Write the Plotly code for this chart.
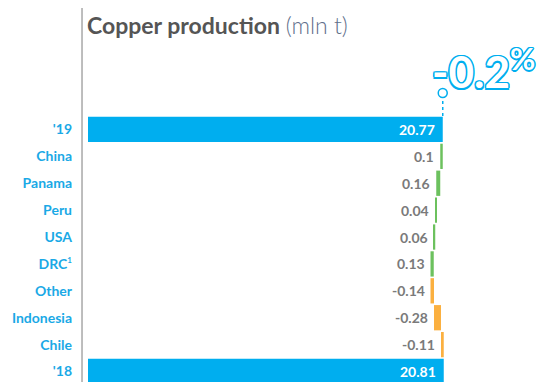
import plotly.graph_objects as go

# Waterfall of copper output change, bottom ('18) to top ('19)
categories = ["'18", "Chile", "Indonesia", "Other",
              "DRC<sup><span style='font-size:8px'>1</span></sup>",
              "USA", "Peru", "Panama", "China", "'19"]
start_total = 20.81
deltas = [-0.11, -0.28, -0.14, 0.13, 0.06, 0.04, 0.16, 0.10]
end_total = 20.77
change_label = "-0.2<sup>%</sup>"

BLUE = "#00aeef"
GREEN = "#6cc15e"
ORANGE = "#fbb040"
LABEL_BLUE = "#1aa9e6"
VALUE_GREY = "#7a7a7a"

# bases and lengths of every bar
bases, lengths, colors = [0], [start_total], [BLUE]
running = start_total
for d in deltas:
    bases.append(running)
    lengths.append(d)
    colors.append(GREEN if d > 0 else ORANGE)
    running += d
bases.append(0)
lengths.append(end_total)
colors.append(BLUE)

fig = go.Figure()
fig.add_trace(go.Bar(
    y=categories, x=lengths, base=bases, orientation="h",
    marker=dict(color=colors, line=dict(width=0)),
    hoverinfo="skip", showlegend=False,
))

annotations = []
# delta values, left of each small bar
for cat, b, d in zip(categories[1:-1], bases[1:-1], lengths[1:-1]):
    left = min(b, b + d)
    annotations.append(dict(
        x=left, y=cat, xref="x", yref="y", text=f"{d:g}", showarrow=False,
        xanchor="right", yanchor="middle", xshift=-4,
        font=dict(family="Lato", size=14, color=VALUE_GREY, weight="bold"),
    ))
# totals, inside the bar end
for cat, v in ((categories[0], start_total), (categories[-1], end_total)):
    annotations.append(dict(
        x=v, y=cat, xref="x", yref="y", text=f"{v:.2f}", showarrow=False,
        xanchor="right", yanchor="middle", xshift=-6,
        font=dict(family="Lato", size=14, color="white", weight="bold"),
    ))

# heading
annotations.append(dict(
    x=0, y=1.343, xref="paper", yref="paper", xanchor="left", yanchor="middle",
    xshift=-3,
    text="<b>Copper production</b> <span style='color:#5f6f8c;font-weight:300'>(mln t)</span>",
    showarrow=False, font=dict(family="Lato", size=23, color="#555555"),
))
# outlined percentage change
outline = ", ".join(f"{dx}px {dy}px 0 {BLUE}" for dx, dy in
                    ((-1.2, -1.2), (1.2, -1.2), (-1.2, 1.2), (1.2, 1.2),
                     (0, 1.5), (0, -1.5), (1.5, 0), (-1.5, 0)))
annotations.append(dict(
    x=1, y=1.18, xref="paper", yref="paper", xanchor="right", yanchor="middle",
    xshift=-1, text=change_label, showarrow=False,
    font=dict(family="Lato", size=44, color="white", weight="bold", shadow=outline),
))

shapes = [
    # grey divider left of the bars
    dict(type="line", xref="paper", yref="paper", x0=-0.0133, x1=-0.0133, y0=-0.02, y1=1.406,
         line=dict(color="#a8a8a8", width=1.5)),
    # dotted stem to the change marker
    dict(type="line", xref="x", yref="paper", x0=end_total, x1=end_total, y0=1.0, y1=1.064,
         line=dict(color=BLUE, width=1.5, dash="dot")),
    dict(type="circle", xref="x", yref="paper", xsizemode="pixel", ysizemode="pixel",
         xanchor=end_total, yanchor=1.0865, x0=-4.5, x1=4.5, y0=-4.5, y1=4.5,
         line=dict(color=BLUE, width=1.5), fillcolor="white"),
]

fig.update_layout(
    width=538, height=382,
    margin=dict(l=88, r=0, t=116, b=0),
    paper_bgcolor="white", plot_bgcolor="white",
    bargap=0.06,
    annotations=annotations, shapes=shapes,
    xaxis=dict(range=[6.58, 24.58], visible=False, fixedrange=True),
    yaxis=dict(
        categoryorder="array", categoryarray=categories, range=[-0.39, 9.5],
        showgrid=False, zeroline=False, showline=False, ticks="",
        ticklabelstandoff=15,
        tickfont=dict(family="Lato", size=14, color=LABEL_BLUE, weight="bold"),
    ),
)

fig.write_html("out.html")
